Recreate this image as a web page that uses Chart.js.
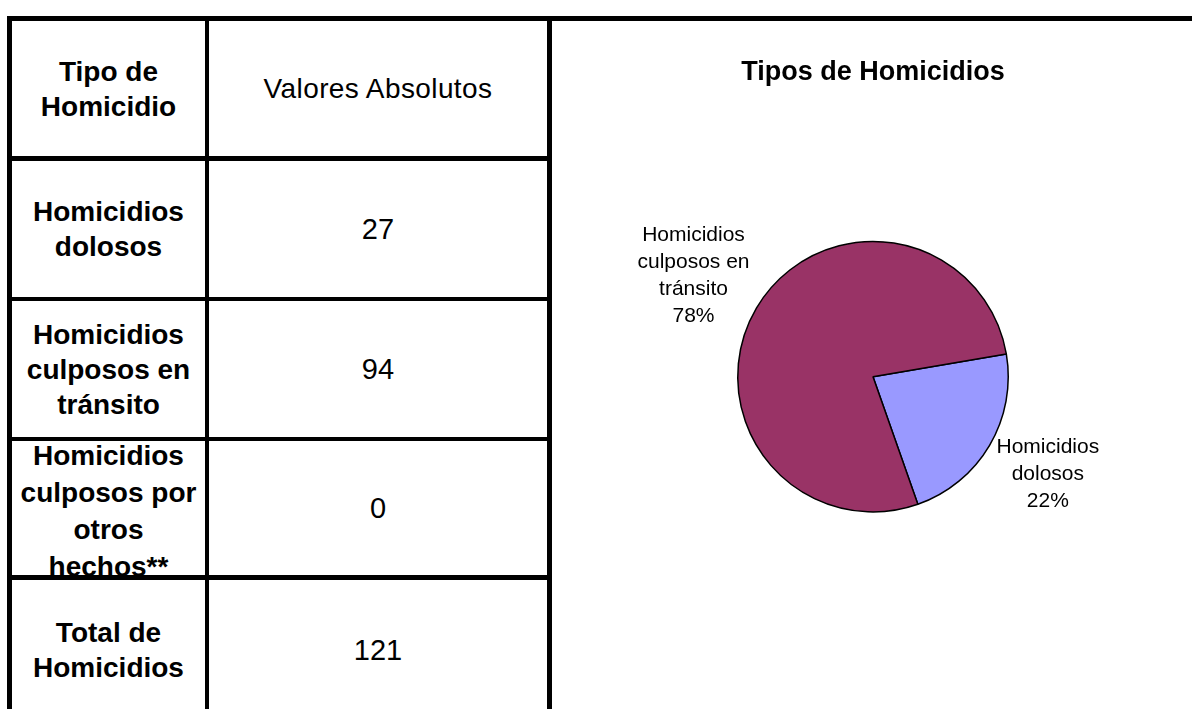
<!DOCTYPE html>
<html>
<head>
<meta charset="utf-8">
<script src="https://cdn.jsdelivr.net/npm/chart.js@4.4.0/dist/chart.umd.min.js"></script>
<style>
  html, body { margin: 0; padding: 0; background: #fff; width: 1192px; height: 709px; overflow: hidden; }
  #tbl {
    position: absolute; left: 7px; top: 16px;
    border-collapse: separate; border-spacing: 0; table-layout: fixed;
    border-left: 5px solid #000; border-top: 5px solid #000;
  }
  #tbl td { padding: 0; border-right: 4px solid #000; border-bottom: 4px solid #000; color: #000; }
  #tbl td.c1 { width: 193px; }
  #tbl td.c2 { width: 338px; border-right-width: 5px; }
  #tbl .cell { display: flex; align-items: center; justify-content: center; text-align: center; overflow: hidden; }
  #tbl td.c1 .cell { font: bold 28px/35px "Liberation Sans", Arial, sans-serif; }
  #tbl td.c2 .cell { font: 29px/35px "Liberation Sans", Arial, sans-serif; }
  #tbl tr.head td.c2 .cell { font-size: 28px; letter-spacing: 0.4px; }
  #tbl tr.r0 .cell { height: 135px; }
  #tbl tr.r1 .cell, #tbl tr.r2 .cell { height: 136px; }
  #tbl tr.r3 .cell { height: 134px; }
  #tbl tr.r3 td.c1 .cell { line-height: 37px; }
  #tbl tr.r3 td.c1 .cell span { position: relative; top: 3px; }
  #tbl tr.r4 .cell { height: 140px; }
  #tbl tr.r0 td, #tbl tr.r3 td { border-bottom-width: 5px; }
  #tbl tr.r4 td { border-bottom: none; }
  #chartBox {
    position: absolute; left: 552px; top: 16px; width: 640px; height: 693px;
    border-top: 5px solid #000; box-sizing: border-box;
  }
  #pie { display: block; }
</style>
</head>
<body>
<table id="tbl"></table>
<div id="chartBox"><canvas id="pie" width="640" height="688"></canvas></div>
<script>
const tableHeaders = ['Tipo de Homicidio', 'Valores Absolutos'];
const categories = ['Homicidios dolosos', 'Homicidios culposos en tránsito', 'Homicidios culposos por otros hechos**'];
const values = [27, 94, 0];
const totalLabel = 'Total de Homicidios';
const sliceColors = ['#9999FF', '#993366', '#FFFFCC'];
const chartTitle = 'Tipos de Homicidios';

(function () {
  const tbl = document.getElementById('tbl');

  function addRow(cls, a, b) {
    const tr = document.createElement('tr');
    tr.className = cls;
    [a, b].forEach((txt, k) => {
      const td = document.createElement('td');
      td.className = k === 0 ? 'c1' : 'c2';
      const div = document.createElement('div');
      div.className = 'cell';
      const span = document.createElement('span');
      span.textContent = txt;
      div.appendChild(span);
      td.appendChild(div);
      tr.appendChild(td);
    });
    tbl.appendChild(tr);
  }

  addRow('head r0', tableHeaders[0], tableHeaders[1]);
  categories.forEach((c, i) => addRow('r' + (i + 1), c, String(values[i])));
  const total = values.reduce((a, b) => a + b, 0);
  addRow('r4', totalLabel, String(total));

  // greedy word wrap for the slice labels
  function wrap(ctx, text, maxW) {
    const words = text.split(' ');
    const lines = [];
    let cur = '';
    words.forEach(w => {
      const test = cur ? cur + ' ' + w : w;
      if (cur && ctx.measureText(test).width > maxW) {
        lines.push(cur);
        cur = w;
      } else {
        cur = test;
      }
    });
    if (cur) lines.push(cur);
    return lines;
  }

  const sliceLabels = {
    id: 'sliceLabels',
    afterDatasetsDraw(chart) {
      const ctx = chart.ctx;
      const meta = chart.getDatasetMeta(0);
      const data = chart.data.datasets[0].data;
      const sum = data.reduce((a, b) => a + b, 0);
      ctx.save();
      ctx.font = '21px "Liberation Sans", Arial';
      ctx.fillStyle = '#000';
      ctx.textAlign = 'center';
      ctx.textBaseline = 'alphabetic';
      meta.data.forEach((arc, i) => {
        if (!data[i]) return;
        const p = arc.getProps(['x', 'y', 'startAngle', 'endAngle', 'outerRadius'], true);
        const mid = (p.startAngle + p.endAngle) / 2;
        const lines = wrap(ctx, chart.data.labels[i], 118);
        lines.push(Math.round(data[i] / sum * 100) + '%');
        const w = Math.max(...lines.map(l => ctx.measureText(l).width));
        const lh = 27;
        const h = lines.length * lh;
        const cos = Math.cos(mid), sin = Math.sin(mid);
        const ax = p.x + (p.outerRadius + 8) * cos;
        const ay = p.y + (p.outerRadius + 8) * sin;
        const cx = ax + Math.sign(cos) * w / 2;
        const cy = ay + sin * h / 2 + Math.sign(sin) * 3;
        const top = cy - h / 2;
        lines.forEach((l, k) => ctx.fillText(l, cx, top + k * lh + 21));
      });
      ctx.restore();
    }
  };

  new Chart(document.getElementById('pie').getContext('2d'), {
    type: 'pie',
    data: {
      labels: categories,
      datasets: [{
        data: values,
        backgroundColor: sliceColors,
        borderColor: '#000',
        borderWidth: 1.5
      }]
    },
    options: {
      responsive: false,
      animation: false,
      devicePixelRatio: 1,
      rotation: 80.3,
      layout: { padding: { left: 185, right: 183, top: 0, bottom: 196 } },
      plugins: {
        legend: { display: false },
        tooltip: { enabled: false },
        title: {
          display: true,
          text: chartTitle,
          color: '#000',
          font: { family: 'Liberation Sans', size: 27, weight: 'bold', lineHeight: 1.2 },
          padding: { top: 35, bottom: 152 }
        }
      }
    },
    plugins: [sliceLabels]
  });
})();
</script>
</body>
</html>
